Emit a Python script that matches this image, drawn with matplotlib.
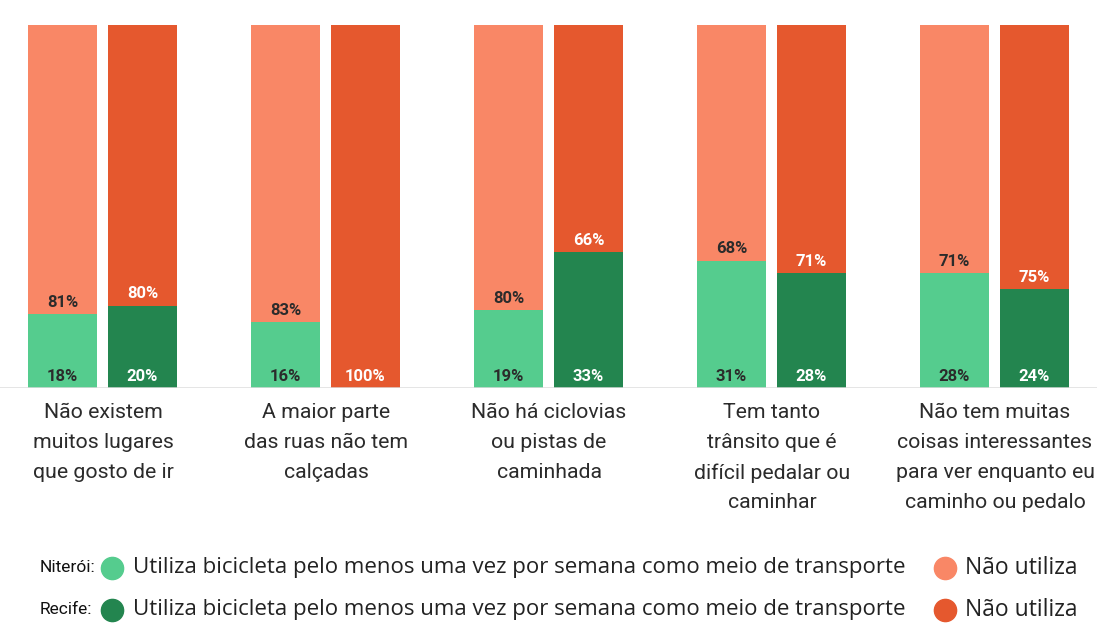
import matplotlib
matplotlib.use("Agg")
import matplotlib.pyplot as plt
import numpy as np

categories = [
    ["Não existem", "muitos lugares", "que gosto de ir"],
    ["A maior parte", "das ruas não tem", "calçadas"],
    ["Não há ciclovias", "ou pistas de", "caminhada"],
    ["Tem tanto", "trânsito que é", "difícil pedalar ou", "caminhar"],
    ["Não tem muitas", "coisas interessantes", "para ver enquanto eu", "caminho ou pedalo"],
]
niteroi_uses = [18, 16, 19, 31, 28]
niteroi_not = [81, 83, 80, 68, 71]
recife_uses = [20, 0, 33, 28, 24]
recife_not = [80, 100, 66, 71, 75]

legend_cities = ["Niterói:", "Recife:"]
legend_uses = "Utiliza bicicleta pelo menos uma vez por semana como meio de transporte"
legend_not = "Não utiliza"

C_LG = "#55CC8E"
C_DG = "#23854F"
C_LO = "#F98766"
C_DO = "#E5582E"
TXT = "#2b2b2b"

plt.rcParams['font.family'] = ['Roboto', 'DejaVu Sans']

W, H = 1097, 624
fig = plt.figure(figsize=(W / 100, H / 100), dpi=100)
ax = fig.add_axes([0, (H - 388) / H, 1, 363 / H])

x = np.arange(len(categories))
bw = 69 / 223
off = 40 / 223

def draw(xpos, uses, nots, cu, cn, tu, tn):
    ax.bar(xpos, uses, bw, color=cu, zorder=2)
    ax.bar(xpos, nots, bw, bottom=uses, color=cn, zorder=2)
    for xi, u, n in zip(xpos, uses, nots):
        if u > 0:
            ax.annotate(f"{u}%", (xi, 0), xytext=(0, 8), textcoords="offset points",
                        ha="center", va="center", color=tu, fontsize=12, fontweight="bold")
        ax.annotate(f"{n}%", (xi, u), xytext=(0, 8.5), textcoords="offset points",
                    ha="center", va="center", color=tn, fontsize=12, fontweight="bold")

draw(x - off, niteroi_uses, niteroi_not, C_LG, C_LO, TXT, TXT)
draw(x + off, recife_uses, recife_not, C_DG, C_DO, "white", "white")

ax.set_xlim(-0.46, 4.46)
ax.set_ylim(0, 88.3)
ax.axhline(0, color="#dddddd", lw=1.8, zorder=3)
ax.axis("off")

# overlay axes in pixel coordinates for text/legend
ov = fig.add_axes([0, 0, 1, 1], zorder=5)
ov.set_xlim(0, W)
ov.set_ylim(H, 0)
ov.axis("off")
ov.patch.set_alpha(0)

for i, lines in enumerate(categories):
    xc = 103 + 223 * i
    for j, line in enumerate(lines):
        ov.text(xc, 413 + 30 * j, line, ha="center", va="center", fontsize=15.3, color=TXT)

LEGF = ['Open Sans', 'DejaVu Sans']
rows_y = [568, 610]
for k, (city, cu, cn) in enumerate(zip(legend_cities, [C_LG, C_DG], [C_LO, C_DO])):
    y = rows_y[k]
    ov.text(40, y, city, ha="left", va="center", fontsize=12.5, color="#111111")
    ov.plot([112], [y], "o", ms=16, color=cu)
    ov.text(133, y, legend_uses, ha="left", va="center", fontsize=16, color="#222222", family=LEGF)
    ov.plot([945], [y], "o", ms=16, color=cn)
    ov.text(965, y, legend_not, ha="left", va="center", fontsize=16.5, color="#222222", family=LEGF)

fig.savefig("out.png", dpi=100)
